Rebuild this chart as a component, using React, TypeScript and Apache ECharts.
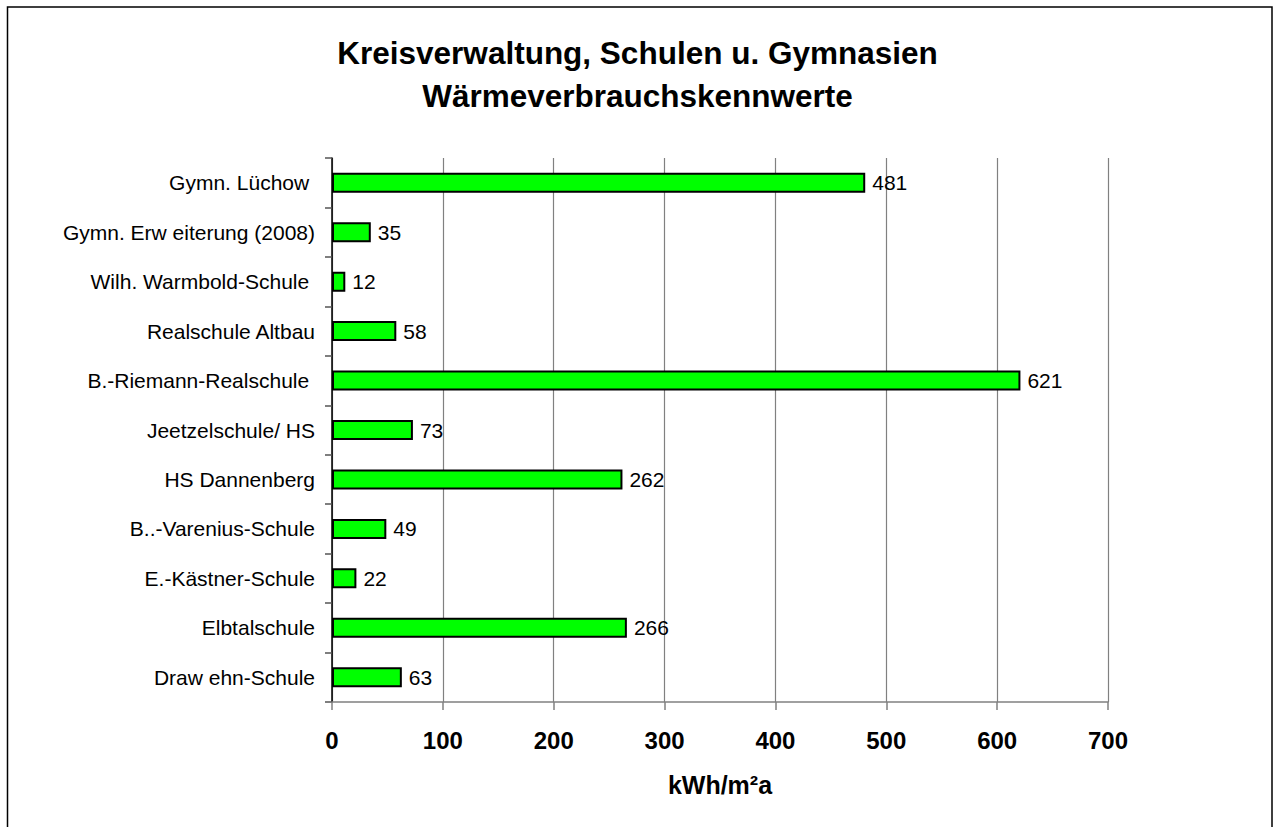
import React, { useEffect, useRef } from "react";
import * as echarts from "echarts";

const categories = [
  "Gymn. Lüchow ",
  "Gymn. Erw eiterung (2008)",
  "Wilh. Warmbold-Schule ",
  "Realschule Altbau",
  "B.-Riemann-Realschule ",
  "Jeetzelschule/ HS",
  "HS Dannenberg",
  "B..-Varenius-Schule",
  "E.-Kästner-Schule",
  "Elbtalschule",
  "Draw ehn-Schule",
];
const values = [481, 35, 12, 58, 621, 73, 262, 49, 22, 266, 63];
const titleLines = ["Kreisverwaltung, Schulen u. Gymnasien", "Wärmeverbrauchskennwerte"];
const axisName = "kWh/m²a";

const FONT = "'Liberation Sans', Arial, sans-serif";

export default function App() {
  const ref = useRef<HTMLDivElement>(null);
  useEffect(() => {
    if (!ref.current) return;
    const chart = echarts.init(ref.current, undefined, { renderer: "svg" });
    chart.setOption({
      animation: false,
      backgroundColor: "#ffffff",
      title: {
        text: titleLines.join("\n"),
        left: "center",
        top: 26,
        textStyle: {
          fontFamily: FONT,
          fontSize: 31.5,
          fontWeight: "bold",
          color: "#000",
          lineHeight: 43,
        },
      },
      graphic: [
        {
          type: "rect",
          shape: { x: 7.5, y: 7, width: 1264.5, height: 840 },
          style: { fill: "none", stroke: "#000", lineWidth: 1.5 },
          silent: true,
          z: 100,
        },
      ],
      grid: { left: 332, right: 167, top: 158, bottom: 125, containLabel: false },
      xAxis: {
        type: "value",
        min: 0,
        max: 700,
        interval: 100,
        name: axisName,
        nameLocation: "middle",
        nameGap: 70,
        nameTextStyle: { fontFamily: FONT, fontSize: 25, fontWeight: "bold", color: "#000" },
        axisLine: { show: true, lineStyle: { color: "#808080", width: 1.5 } },
        axisTick: { show: true, length: 8, lineStyle: { color: "#808080", width: 1.5 } },
        axisLabel: { fontFamily: FONT, fontSize: 24, fontWeight: "bold", color: "#000", margin: 26 },
        splitLine: { show: true, lineStyle: { color: "#808080", width: 1.2 } },
      },
      yAxis: {
        type: "category",
        data: categories,
        inverse: true,
        axisLine: { show: true, lineStyle: { color: "#000", width: 1.5 } },
        axisTick: { show: true, length: 7, lineStyle: { color: "#555", width: 1.5 } },
        axisLabel: { fontFamily: FONT, fontSize: 21, color: "#000", margin: 17 },
        splitLine: { show: false },
      },
      series: [
        {
          type: "bar",
          data: values,
          barWidth: 20,
          itemStyle: { color: "#00ff00", borderColor: "#000", borderWidth: 2 },
          label: {
            show: true,
            position: "right",
            distance: 7,
            fontFamily: FONT,
            fontSize: 21,
            color: "#000",
          },
        },
      ],
    });
    return () => chart.dispose();
  }, []);
  return (
    <div
      ref={ref}
      style={{ position: "fixed", left: 0, top: 0, width: 1275, height: 827, background: "#fff" }}
    />
  );
}
